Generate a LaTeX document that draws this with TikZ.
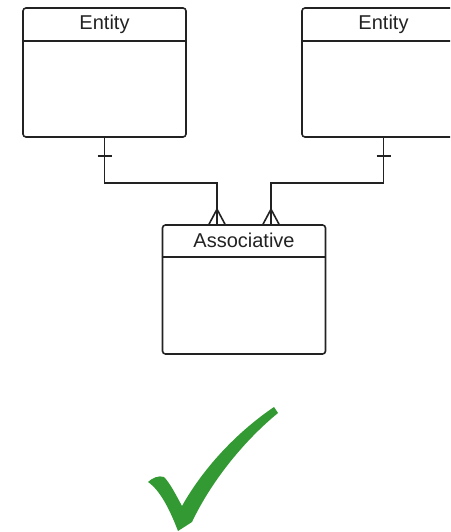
\documentclass[tikz,border=0pt]{standalone}
\usepackage{fontspec}
\setmainfont{Liberation Sans}
\usepackage{tikz}
\definecolor{tickgreen}{HTML}{339933}
\definecolor{ink}{HTML}{222222}

\begin{document}
\begin{tikzpicture}[x=1pt,y=-1pt,line width=1.6pt,draw=ink,
    entbox/.style={draw,rounded corners=3pt,minimum width=163pt,minimum height=129pt,inner sep=0pt},
    hdr/.style={font=\fontsize{20}{24}\selectfont,text=ink,inner sep=0pt}]
      \clip (0,0) rectangle (450,532);
      \node[entbox] (entL) at (104.5,72.5) {};
      \node[entbox] (entR) at (383.5,72.5) {};
      \node[entbox] (asc) at (244,289.5) {};
      \node[hdr] (tL) at ([yshift=-17pt]entL.north) {Entity};
      \node[hdr] (tR) at ([yshift=-17pt]entR.north) {Entity};
      \node[hdr] (tA) at ([yshift=-16pt]asc.north) {Associative};
      \draw ([yshift=-34pt]entL.north west)--([yshift=-34pt]entL.north east);
      \draw ([yshift=-34pt]entR.north west)--([yshift=-34pt]entR.north east);
      \draw ([yshift=-33pt]asc.north west)--([yshift=-33pt]asc.north east);
      \coordinate (aL) at ([xshift=-27pt]asc.north);
      \coordinate (aR) at ([xshift=27pt]asc.north);
      \draw (entL.south)--++(0,45)-|(aL);
      \draw (entR.south)--++(0,45)-|(aR);
      % one
      \coordinate (oneL) at ([yshift=-18pt]entL.south);
      \coordinate (oneR) at ([yshift=-18pt]entR.south);
      \draw ([xshift=-7pt]oneL)--([xshift=7pt]oneL);
      \draw ([xshift=-7pt]oneR)--([xshift=7pt]oneR);
      % many
      \draw ([xshift=-8pt]aL)--([yshift=15pt]aL)--([xshift=8pt]aL);
      \draw ([xshift=-8pt]aR)--([yshift=15pt]aR)--([xshift=8pt]aR);
      % check mark
      \fill[tickgreen] (148,482) .. controls (152,478) and (159,475) .. (164,477)
        .. controls (170,483) and (176,495) .. (182,506)
        .. controls (205,465) and (240,430) .. (274,407) -- (278,413)
        .. controls (245,440) and (212,480) .. (192,522) -- (178,531)
        .. controls (170,510) and (160,490) .. (148,482) -- cycle;
    \end{tikzpicture}
\end{document}
